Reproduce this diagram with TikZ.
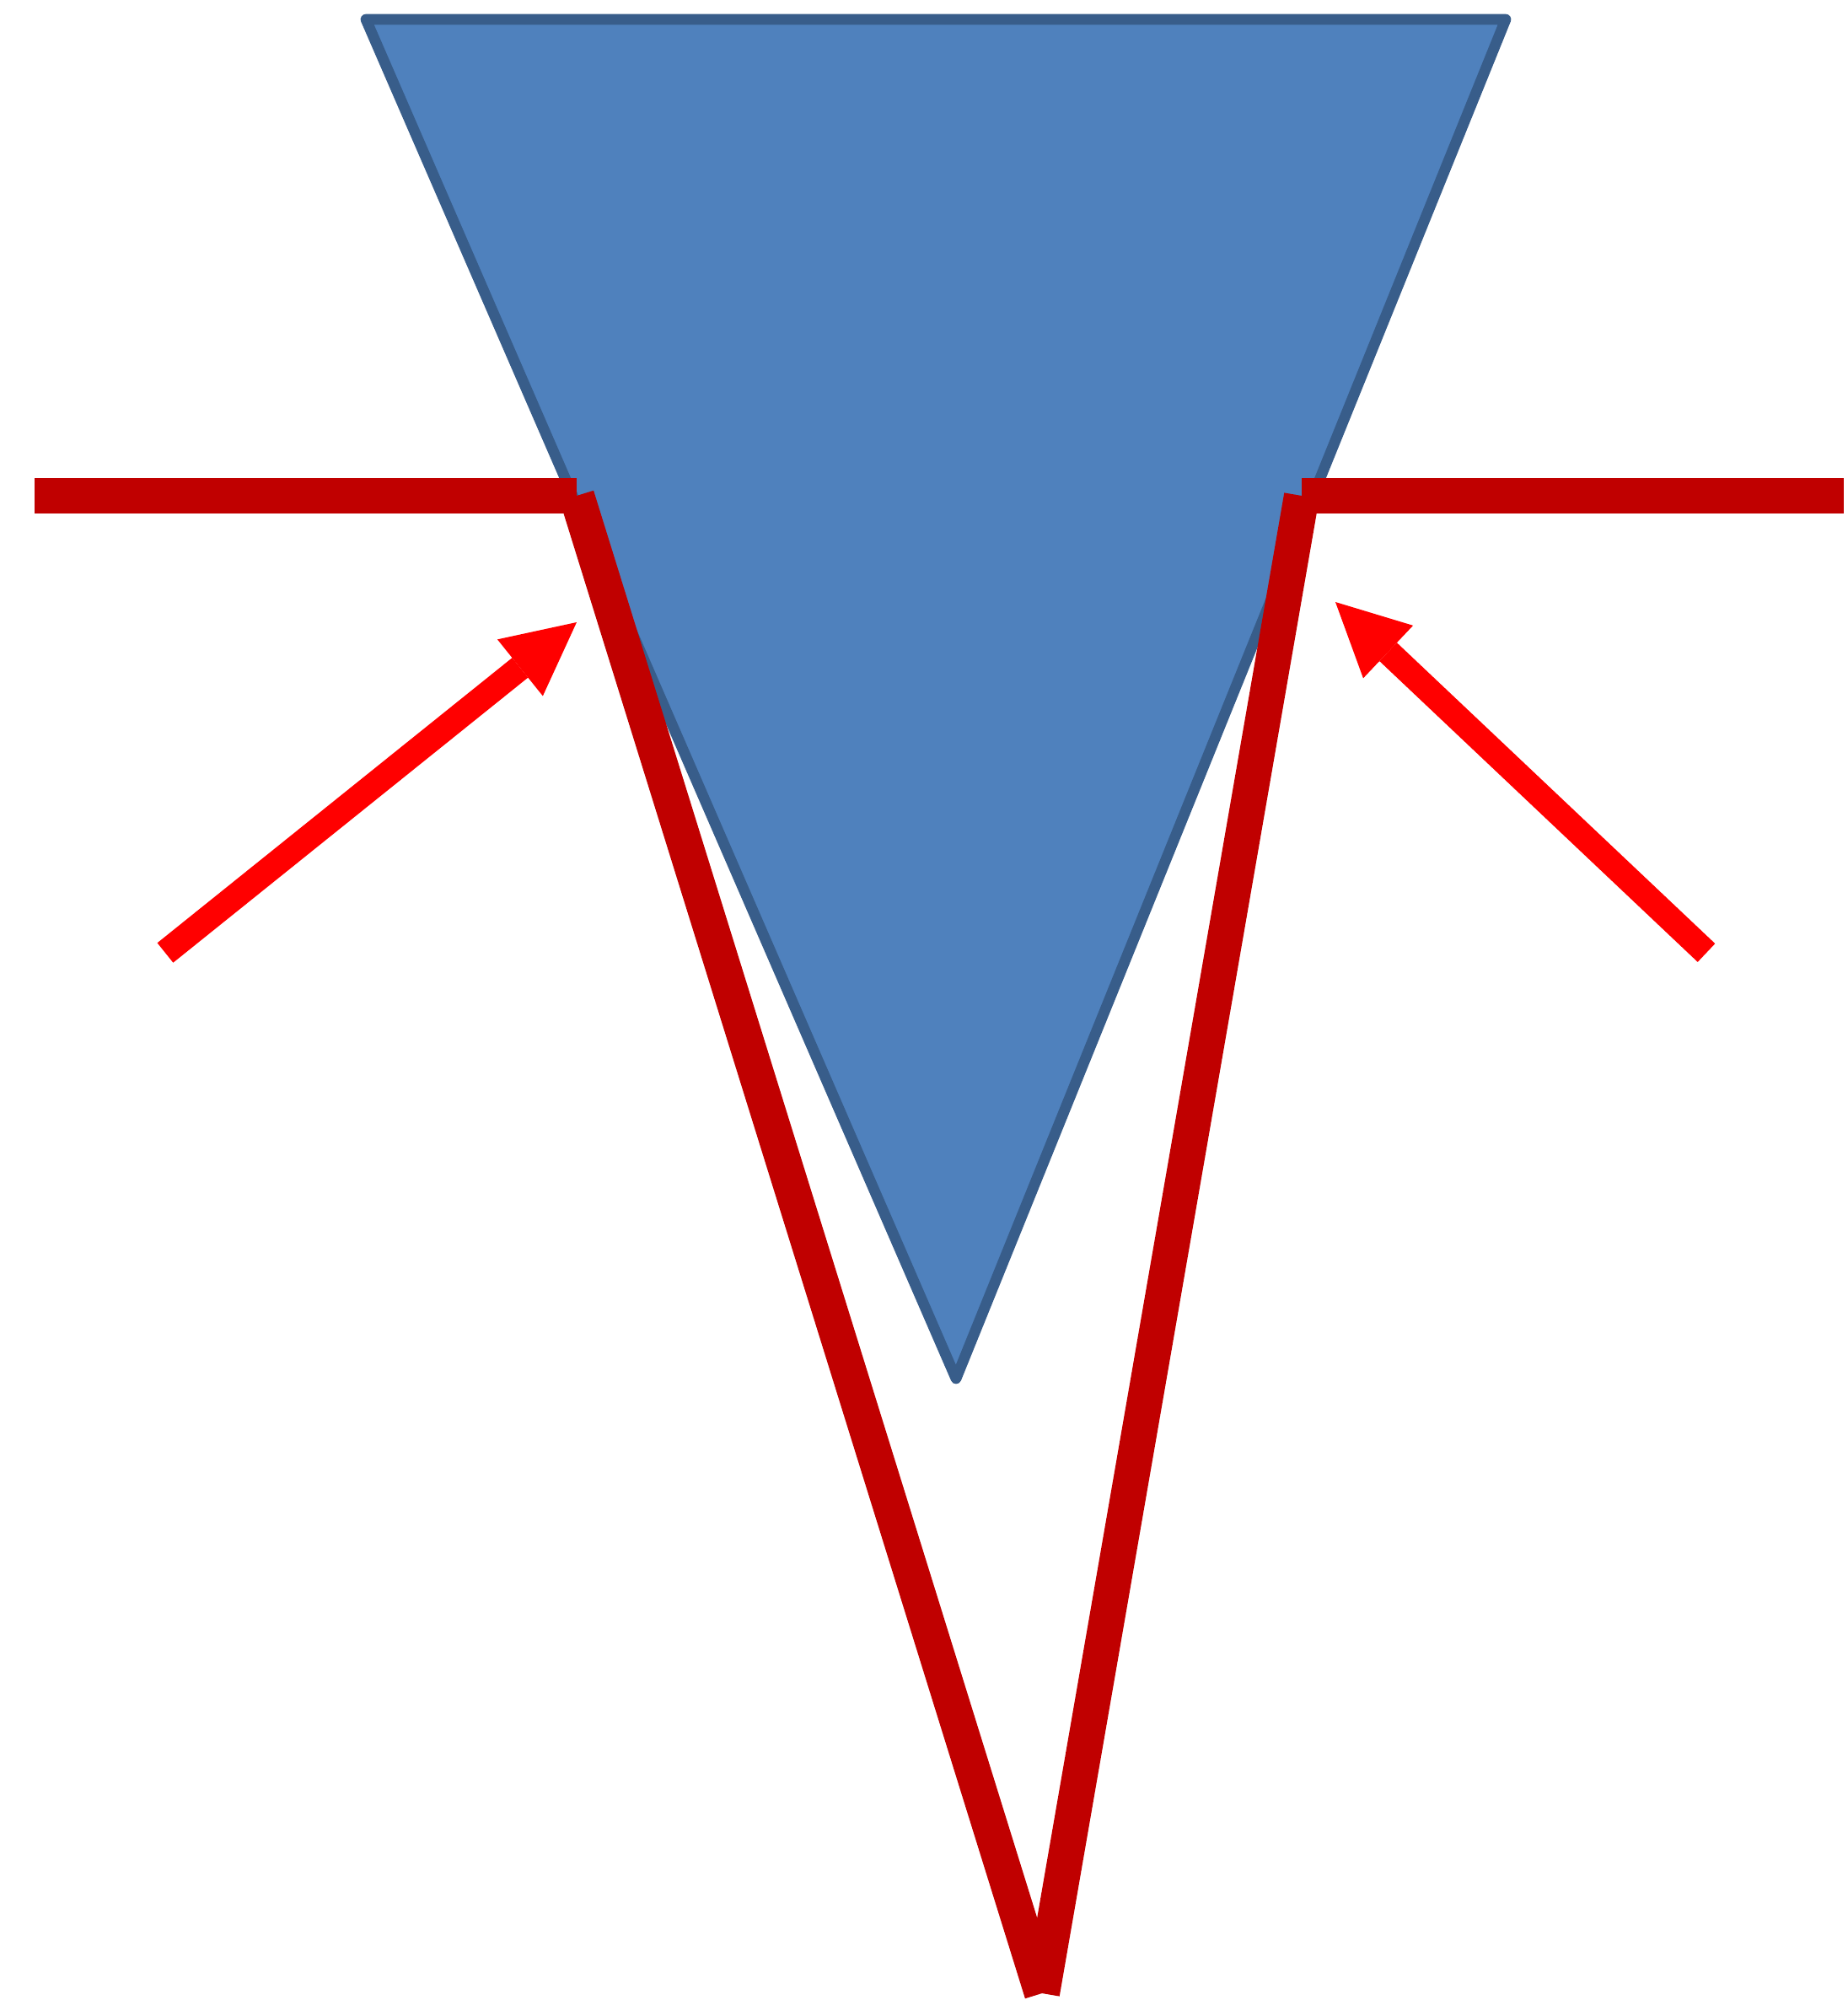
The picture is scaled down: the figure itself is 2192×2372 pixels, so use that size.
\documentclass[tikz,border=0pt]{standalone}
\usetikzlibrary{arrows.meta}
\definecolor{wedgefill}{RGB}{79,129,189}
\definecolor{wedgeedge}{RGB}{56,93,138}
\definecolor{wallred}{RGB}{192,0,0}
\definecolor{pushred}{RGB}{255,0,0}
\tikzset{
  wedge/.style={fill=wedgefill, draw=wedgeedge, line width=0.127cm, line join=round},
  wall/.style={wallred, line width=0.42cm, line cap=butt},
  push/.style={-{Triangle[length=0.86cm, width=0.86cm, line width=0pt]}, pushred, line width=0.30cm},
}
\begin{document}
\begin{tikzpicture}[x=0.01cm, y=-0.01cm]
        \useasboundingbox (0,0) rectangle (2192,2372);
        \coordinate (wl) at (434,23); \coordinate (wr) at (1786,23); \coordinate (wb) at (1134,1635);
        \draw[wedge] (wl) -- (wr) -- (wb) -- cycle;
        \coordinate (sl) at (41,588); \coordinate (el) at (684,588);
        \coordinate (er) at (1544,588); \coordinate (sr) at (2187,588);
        \coordinate (tip) at (1236,2364);
        \draw[wall] (sl) -- (el);
        \draw[wall] (er) -- (sr);
        \draw[wall] (el) -- (tip);
        \draw[wall] (er) -- (tip);
        \coordinate (pl0) at (196,1130); \coordinate (pl1) at (684,738);
        \coordinate (pr0) at (2024,1130); \coordinate (pr1) at (1584,714);
        \draw[push] (pl0) -- (pl1);
        \draw[push] (pr0) -- (pr1);
      \end{tikzpicture}
\end{document}
